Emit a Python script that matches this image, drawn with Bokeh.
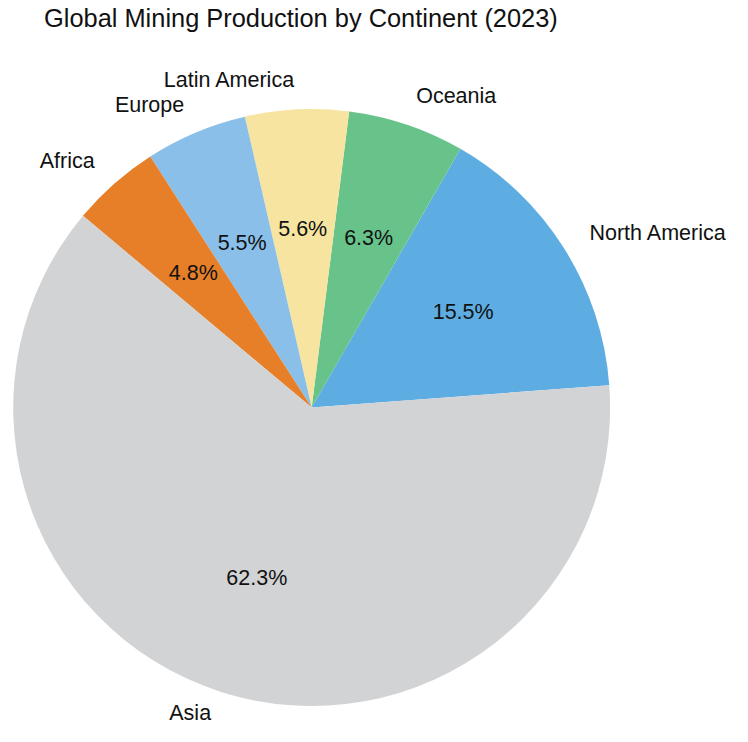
import math
from bokeh.plotting import figure
from bokeh.models import Range1d, ColumnDataSource
from bokeh.core.properties import value
from bokeh.embed import file_html
from bokeh.resources import INLINE

# ---- data ----
continents = ["North America", "Oceania", "Latin America", "Europe", "Africa", "Asia"]
shares = [15.5, 6.3, 5.6, 5.5, 4.8, 62.3]
colors = ["#5dade2", "#68c38b", "#f7e4a0", "#89bfe8", "#e67f27", "#d2d3d5"]
title_text = "Global Mining Production by Continent (2023)"

# ---- layout (pixels; figure fills the 732x726 content box) ----
W, H = 732, 726
S = 0.9785                   # scale from the reference's 748x742 frame
CX, CY = 318 * S, -416 * S   # pie centre (y measured downward, negative)
R = 305 * S
START_DEG = 4.3
FONT = "Liberation Sans"
LABEL_PX = 22 * S
LABEL_SIZE = f"{LABEL_PX:.1f}px"
TITLE_SIZE = f"{26 * S:.1f}px"

p = figure(width=W, height=H, x_range=Range1d(0, W), y_range=Range1d(-H, 0),
           output_backend="svg", toolbar_location=None, min_border=0,
           x_axis_type=None, y_axis_type=None)
p.grid.visible = False
p.outline_line_color = None
p.background_fill_color = "white"
p.border_fill_color = "white"

total = sum(shares)
starts, ends, mids = [], [], []
a = math.radians(START_DEG)
for s in shares:
    span = 2 * math.pi * s / total
    starts.append(a)
    ends.append(a + span)
    mids.append(a + span / 2)
    a += span

src = ColumnDataSource(dict(start=starts, end=ends, color=colors, name=continents))
p.wedge(x=CX, y=CY, radius=R, start_angle="start", end_angle="end", direction="anticlock",
        fill_color="color", line_color=None, source=src)

# percentage labels (inside, 0.6 r)
pct = dict(x=[CX + 0.6 * R * math.cos(m) for m in mids],
           y=[CY + 0.6 * R * math.sin(m) for m in mids],
           t=[f"{s:.1f}%" for s in shares])
p.text(x="x", y="y", text="t", source=ColumnDataSource(pct), text_align="center",
       text_baseline="middle", text_font=value(FONT), text_font_size=LABEL_SIZE,
       text_color="#111111")

# name labels (outside, 1.1 r), kept inside the figure's bottom edge
left = dict(x=[], y=[], t=[])
right = dict(x=[], y=[], t=[])
y_min = -H + LABEL_PX * 0.62
for name, m in zip(continents, mids):
    x = CX + 1.1 * R * math.cos(m)
    y = max(CY + 1.1 * R * math.sin(m), y_min)
    d = left if math.cos(m) >= 0 else right
    d["x"].append(x); d["y"].append(y); d["t"].append(name)
p.text(x="x", y="y", text="t", source=ColumnDataSource(left), text_align="left",
       text_baseline="middle", text_font=value(FONT), text_font_size=LABEL_SIZE,
       text_color="#111111")
p.text(x="x", y="y", text="t", source=ColumnDataSource(right), text_align="right",
       text_baseline="middle", text_font=value(FONT), text_font_size=LABEL_SIZE,
       text_color="#111111")

# title
p.text(x=[307 * S], y=[-18 * S], text=[title_text], text_align="center", text_baseline="middle",
       text_font=value(FONT), text_font_size=TITLE_SIZE, text_color="#111111")

open("out.html", "w").write(file_html(p, INLINE))
